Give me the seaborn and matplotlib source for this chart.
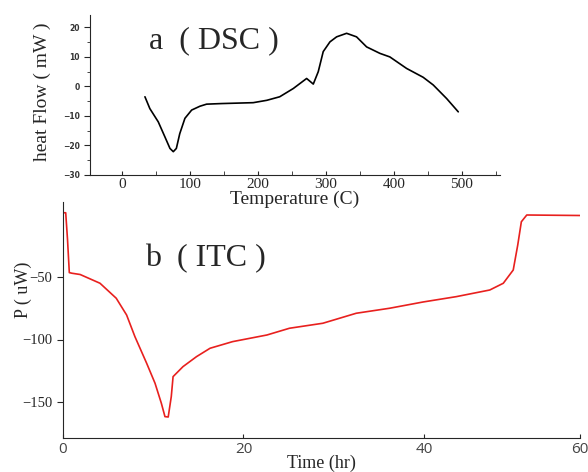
import numpy as np
import pandas as pd
import matplotlib
matplotlib.use("Agg")
import matplotlib.pyplot as plt
import seaborn as sns
from matplotlib.ticker import MultipleLocator

# DSC curve (a)
dsc_temp = [33.8, 41, 53.4, 63, 70.6, 75.5, 80, 85, 92.6, 102.5, 114.7, 124.5,
            146.5, 193, 213, 232, 252, 271.6, 281.4, 288.7, 296, 305.9, 315.7,
            330.4, 345, 359.8, 379.4, 394, 418.6, 443, 457.8, 477.5, 494.6]
dsc_heat = [-3.5, -7.5, -12, -17, -21, -22.1, -21, -16, -10.8, -8, -6.7, -6,
            -5.8, -5.5, -4.7, -3.5, -0.7, 2.7, 0.8, 5, 11.8, 15.1, 16.8, 18,
            16.8, 13.4, 11.2, 10, 6.1, 3.1, 0.5, -4.1, -8.6]

# ITC curve (b)
itc_time = [0, 0.3, 0.5, 0.7, 1.0, 1.9, 4.1, 5.9, 7.05, 7.97, 9.27, 10.2, 10.9,
            11.3, 11.66, 12.0, 12.2, 13.3, 14.8, 16.3, 18.8, 22.6, 25.1, 28.8,
            32.5, 36.2, 39.9, 43.6, 47.3, 48.8, 49.9, 50.4, 50.8, 51.4, 57.3]
itc_power = [1.4, 1.4, -20, -46.5, -47, -48, -55, -67, -80.4, -97.7, -119, -135,
             -151, -161.7, -162, -145.7, -129.7, -121.7, -113.7, -107, -101.7,
             -96.4, -91, -87, -79, -75, -70, -65.7, -60.4, -55, -44.4, -24.4,
             -5.8, -0.4, -0.8]

dsc = pd.DataFrame({"T": dsc_temp, "H": dsc_heat})
itc = pd.DataFrame({"t": itc_time, "P": itc_power})

sns.set_style("ticks")
plt.rcParams["font.family"] = ["Liberation Serif", "DejaVu Serif"]

W, H = 588, 472
fig = plt.figure(figsize=(W / 100, H / 100), dpi=100)

# ---- a (DSC)
ax1 = fig.add_axes([90 / W, 1 - 175 / H, 410 / W, 160 / H])
sns.lineplot(data=dsc, x="T", y="H", ax=ax1, color="black", lw=1.2, sort=False)
ax1.set_xlim(-47, 556)
ax1.set_ylim(-30, 24.2)
ax1.set_xticks([0, 100, 200, 300, 400, 500])
ax1.xaxis.set_minor_locator(MultipleLocator(50))
ax1.set_yticks([-30, -20, -10, 0, 10, 20])
ax1.yaxis.set_minor_locator(MultipleLocator(5))
ax1.tick_params(axis="x", which="both", direction="in", length=3, labelsize=11, pad=2)
ax1.tick_params(axis="y", which="major", direction="out", length=4)
ax1.tick_params(axis="y", which="minor", direction="out", length=2)
for lab in ax1.get_yticklabels():
    lab.set_fontfamily("DejaVu Sans")
    lab.set_fontsize(5.5)
    lab.set_fontweight("bold")
    lab.set_color("#333333")
ax1.set_xlabel("Temperature (C)", fontsize=14, labelpad=0)
ax1.set_ylabel("heat Flow ( mW )", fontsize=14)
ax1.yaxis.label.set_va("center")
ax1.yaxis.set_label_coords(-0.117, 0.52)
ax1.text(0.145, 0.84, "a  ( DSC )", transform=ax1.transAxes, fontsize=23,
         ha="left", va="center")
sns.despine(ax=ax1)

# ---- b (ITC)
ax2 = fig.add_axes([63 / W, 1 - 438 / H, 517 / W, 236 / H])
ax2.patch.set_alpha(0)
sns.lineplot(data=itc, x="t", y="P", ax=ax2, color="#e8201e", lw=1.2, sort=False)
ax2.set_xlim(0, 57.3)
ax2.set_ylim(-178.8, 10)
ax2.set_xticks([0, 20, 40, 57.3], ["0", "20", "40", "60"])
ax2.set_yticks([-50, -100, -150])
ax2.tick_params(axis="x", direction="in", length=3, pad=3)
ax2.tick_params(axis="y", direction="out", length=4, labelsize=10.5)
for lab in ax2.get_xticklabels():
    lab.set_fontfamily("Open Sans")
    lab.set_fontsize(11)
    lab.set_color("#444444")
ax2.set_xlabel("Time (hr)", fontsize=13)
ax2.xaxis.label.set_va("center")
ax2.xaxis.set_label_coords(0.5, -0.106)
ax2.set_ylabel("P ( uW)", fontsize=13)
ax2.yaxis.set_label_coords(-0.077, 0.63)
ax2.yaxis.label.set_va("center")
ax2.text(0.158, 0.76, "b  ( ITC )", transform=ax2.transAxes, fontsize=23,
         ha="left", va="center")
sns.despine(ax=ax2)

fig.savefig("out.png", dpi=100)
